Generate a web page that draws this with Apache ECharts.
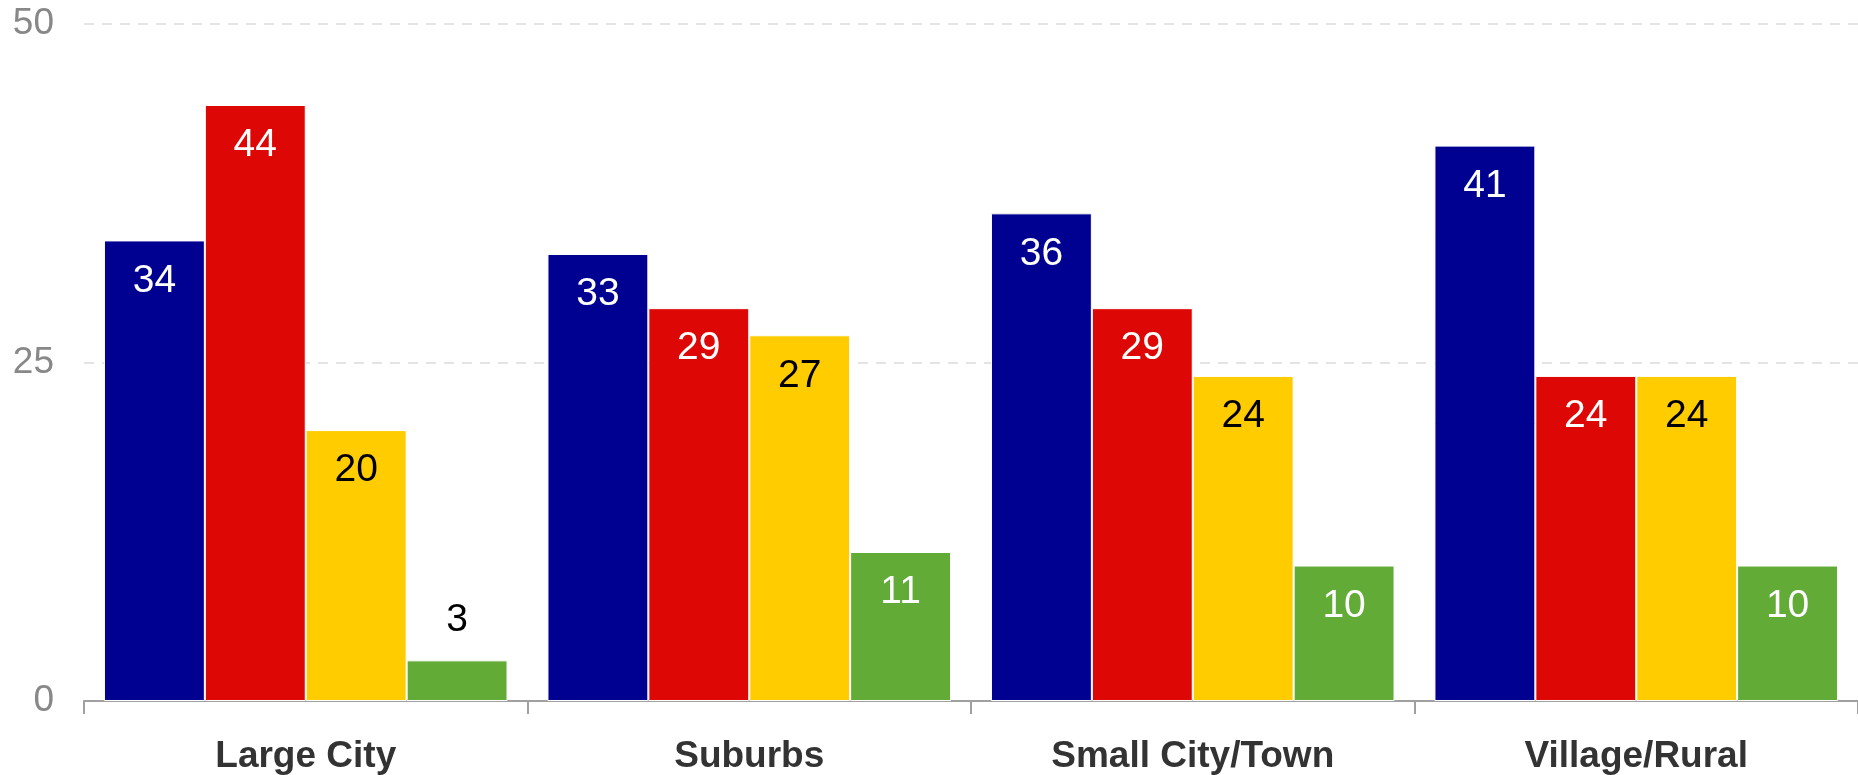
<!DOCTYPE html>
<html>
<head>
<meta charset="utf-8">
<script src="https://cdn.jsdelivr.net/npm/echarts@6/dist/echarts.min.js"></script>
<style>
html,body{margin:0;padding:0;background:#fff;}
#chart{width:1858px;height:775px;}
</style>
</head>
<body>
<div id="chart"></div>
<script>
const categories = ['Large City', 'Suburbs', 'Small City/Town', 'Village/Rural'];
const seriesNames = ['Series 1', 'Series 2', 'Series 3', 'Series 4'];
const series1 = [34, 33, 36, 41];
const series2 = [44, 29, 29, 24];
const series3 = [20, 27, 24, 24];
const series4 = [3, 11, 10, 10];
const yTicks = [0, 25, 50];

const colors = ['#000091', '#DD0806', '#FFCC00', '#62AB37'];
const labelColors = ['#fff', '#fff', '#000', '#fff'];
const FONT = "'Liberation Sans', Arial, sans-serif";
const allData = [series1, series2, series3, series4];

function buildData(arr) {
  return arr.map(v => {
    if (v < 6) {
      return { value: v, label: { position: 'top', color: '#000' } };
    }
    return v;
  });
}

const chart = echarts.init(document.getElementById('chart'), null, { renderer: 'canvas' });
chart.setOption({
  animation: false,
  backgroundColor: '#fff',
  grid: { left: 84, right: 0, top: 23.7, bottom: 73.5, containLabel: false },
  xAxis: {
    type: 'category',
    data: categories,
    axisLine: { show: true, lineStyle: { color: '#a0a0a0', width: 2 } },
    axisTick: { show: true, length: 13, lineStyle: { color: '#a0a0a0', width: 2 } },
    axisLabel: { fontFamily: FONT, fontSize: 37, fontWeight: 'bold', color: '#333', margin: 37 }
  },
  yAxis: {
    type: 'value',
    min: yTicks[0], max: yTicks[yTicks.length - 1], interval: 25,
    axisLine: { show: false },
    axisTick: { show: false },
    axisLabel: { fontFamily: FONT, fontSize: 37, color: '#888', margin: 30 },
    splitLine: { show: true, lineStyle: { color: '#dcdcdc', type: [10, 8], width: 1.5 } }
  },
  series: allData.map((arr, i) => ({
    name: seriesNames[i],
    type: 'bar',
    data: buildData(arr),
    barGap: 0,
    barCategoryGap: '9%',
    itemStyle: { color: colors[i], borderColor: '#fff', borderWidth: 1 },
    label: {
      show: true,
      position: 'insideTop',
      distance: 21,
      fontFamily: FONT,
      fontSize: 39,
      color: labelColors[i]
    }
  }))
});
</script>
</body>
</html>
